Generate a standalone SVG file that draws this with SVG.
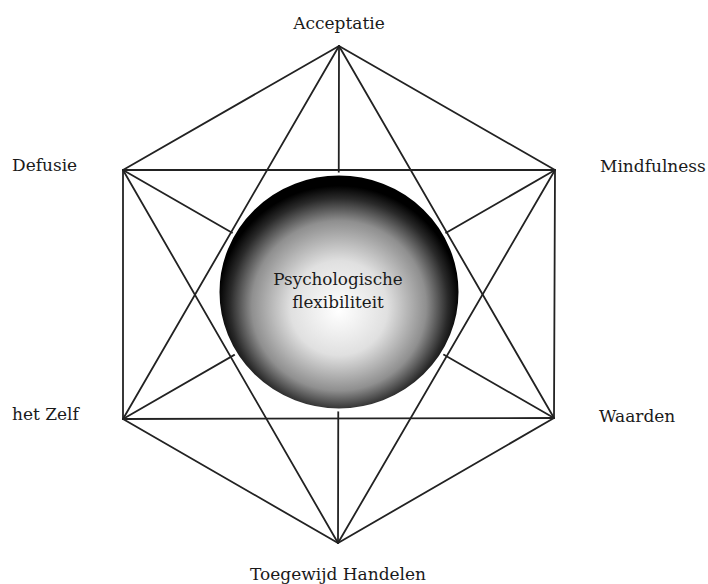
<svg xmlns="http://www.w3.org/2000/svg" width="708" height="584" viewBox="0 0 708 584">
<style>
.lbl{font-family:"DejaVu Serif","Liberation Serif",serif;font-size:17px;fill:#1a1a1a}
.cl{font-family:"DejaVu Serif","Liberation Serif",serif;font-size:16.8px;fill:#1a1a1a;text-anchor:middle}
#connectors line{stroke:#222;stroke-width:1.8;stroke-linecap:round}
</style>
<defs>
<radialGradient id="g" cx="0.5" cy="0.55" r="0.5" fx="0.5" fy="0.58">
<stop offset="0" stop-color="#ffffff"/>
<stop offset="0.4" stop-color="#e0e0e0"/>
<stop offset="0.72" stop-color="#8f8f8f"/>
<stop offset="0.9" stop-color="#2a2a2a"/>
<stop offset="1" stop-color="#000000"/>
</radialGradient>
</defs>
<rect width="708" height="584" fill="#fff"/>
<g id="connectors">
<line x1="339" y1="46" x2="123" y2="170"/>
<line x1="339" y1="46" x2="555" y2="170"/>
<line x1="339" y1="46" x2="123" y2="419"/>
<line x1="339" y1="46" x2="554" y2="418"/>
<line x1="339" y1="46" x2="338" y2="543"/>
<line x1="123" y1="170" x2="555" y2="170"/>
<line x1="123" y1="170" x2="123" y2="419"/>
<line x1="123" y1="170" x2="554" y2="418"/>
<line x1="123" y1="170" x2="338" y2="543"/>
<line x1="555" y1="170" x2="123" y2="419"/>
<line x1="555" y1="170" x2="554" y2="418"/>
<line x1="555" y1="170" x2="338" y2="543"/>
<line x1="123" y1="419" x2="554" y2="418"/>
<line x1="123" y1="419" x2="338" y2="543"/>
<line x1="554" y1="418" x2="338" y2="543"/>
</g>
<g id="center">
<ellipse cx="339" cy="292" rx="121" ry="118" fill="url(#g)" stroke="#fff" stroke-width="3"/>
<text class="cl" x="338" y="285">Psychologische</text>
<text class="cl" x="338" y="308">flexibiliteit</text>
</g>
<g id="acceptatie"><text class="lbl" x="339" y="29" text-anchor="middle">Acceptatie</text></g>
<g id="defusie"><text class="lbl" x="12" y="171">Defusie</text></g>
<g id="mindfulness"><text class="lbl" x="600" y="172">Mindfulness</text></g>
<g id="zelf"><text class="lbl" x="12" y="420">het Zelf</text></g>
<g id="waarden"><text class="lbl" x="599" y="422">Waarden</text></g>
<g id="handelen"><text class="lbl" x="338" y="580" text-anchor="middle">Toegewijd Handelen</text></g>
</svg>
